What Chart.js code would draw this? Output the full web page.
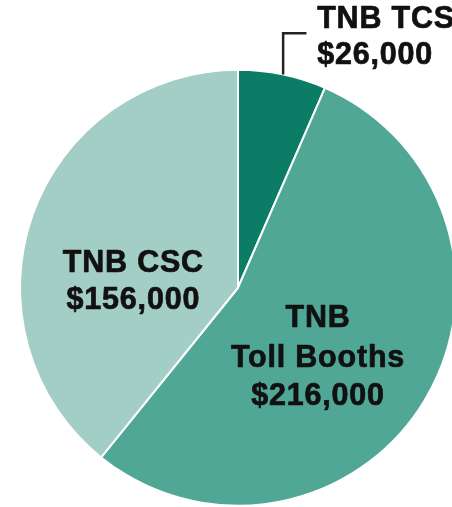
<!DOCTYPE html>
<html>
<head>
<meta charset="utf-8">
<script src="https://cdn.jsdelivr.net/npm/chart.js@4.4.1/dist/chart.umd.min.js"></script>
<style>
  html, body { margin: 0; padding: 0; background: #ffffff; overflow: hidden; }
  #wrap { width: 452px; height: 507px; overflow: hidden; position: relative; }
  #c { position: absolute; left: 0; top: 0; }
</style>
</head>
<body>
<div id="wrap"><canvas id="c" width="462" height="507"></canvas></div>
<script>
const categories = ["TNB TCS", "TNB Toll Booths", "TNB CSC"];
const values = [26000, 216000, 156000];
const labelLines = [
  ["TNB TCS", "$26,000"],
  ["TNB", "Toll Booths", "$216,000"],
  ["TNB CSC", "$156,000"]
];
const colors = ["#0b7d66", "#50a796", "#a3cec5"];

const labelPlugin = {
  id: "sliceLabels",
  afterDatasetsDraw(chart) {
    const ctx = chart.ctx;
    const arc = chart.getDatasetMeta(0).data[0];
    const cx = arc.x, cy = arc.y, r = arc.outerRadius;
    ctx.save();
    ctx.fillStyle = "#111111";
    ctx.strokeStyle = "#111111";
    ctx.lineWidth = 0.7;
    ctx.lineJoin = "round";
    ctx.font = "bold 30.5px 'Liberation Sans', Arial, Helvetica, sans-serif";
    if ('letterSpacing' in ctx) ctx.letterSpacing = "0.8px";
    ctx.textBaseline = "alphabetic";
    const put = (t, x, y) => { ctx.fillText(t, x, y); ctx.strokeText(t, x, y); };

    // TCS (outside, left aligned, with leader)
    ctx.textAlign = "left";
    const tx = cx + 0.363 * r;
    put(labelLines[0][0], tx, cy - 1.191 * r);
    put(labelLines[0][1], tx, cy - 1.025 * r);

    // Toll Booths
    ctx.textAlign = "center";
    const bx = cx + 0.367 * r;
    put(labelLines[1][0], bx, cy + 0.181 * r);
    put(labelLines[1][1], bx, cy + 0.365 * r);
    put(labelLines[1][2], bx, cy + 0.539 * r);

    // CSC
    const sx = cx - 0.48 * r;
    put(labelLines[2][0], sx, cy - 0.072 * r);
    put(labelLines[2][1], sx, cy + 0.099 * r);

    // leader line
    const lx = cx + 0.207 * r;
    const ly = cy - Math.sqrt(r * r - (lx - cx) * (lx - cx));
    const topY = cy - 1.167 * r;
    ctx.strokeStyle = "#222222";
    ctx.lineWidth = 2.5;
    ctx.lineJoin = "miter";
    ctx.beginPath();
    ctx.moveTo(lx, ly);
    ctx.lineTo(lx, topY);
    ctx.lineTo(cx + 0.314 * r, topY);
    ctx.stroke();
    ctx.restore();
  }
};

new Chart(document.getElementById("c"), {
  type: "pie",
  data: {
    labels: categories,
    datasets: [{
      data: values,
      backgroundColor: colors,
      borderColor: "#ffffff",
      borderWidth: 2
    }]
  },
  options: {
    responsive: false,
    animation: false,
    devicePixelRatio: 1,
    layout: { padding: { left: 19, top: 68.5, right: 5, bottom: 0 } },
    plugins: {
      legend: { display: false },
      tooltip: { enabled: false }
    }
  },
  plugins: [labelPlugin]
});
</script>
</body>
</html>
